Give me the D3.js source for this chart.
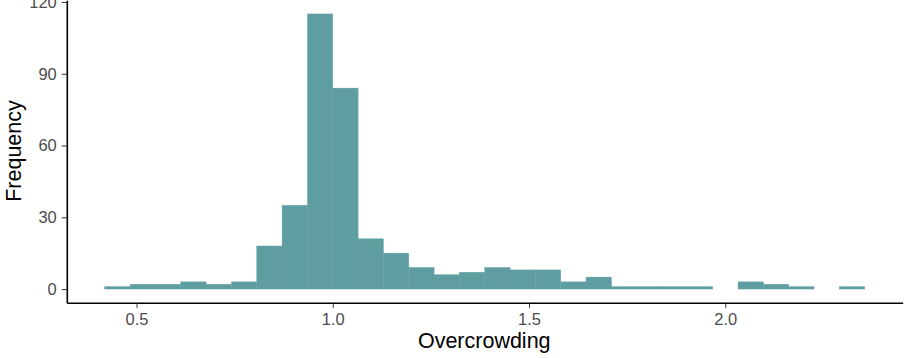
<!DOCTYPE html>
<style>
body { margin: 0; background: #fff; }
svg { font-family: "Liberation Sans", Arial, sans-serif; }
.axis .tick line { stroke: #333; }
.axis .tick text { fill: #4d4d4d; font-size: 16.5px; }
.axis .domain { stroke: #000; stroke-width: 1.6px; }
</style>
<svg width="904" height="358"></svg>
<script src="https://d3js.org/d3.v7.min.js"></script>
<script>

// histogram of Overcrowding, 30 bins
var binStart = 0.4191,
    binWidth = 0.06454;
var counts = [1, 2, 2, 3, 2, 3, 18, 35, 115, 84,
              21, 15, 9, 6, 7, 9, 8, 8, 3, 5,
              1, 1, 1, 1, 0, 3, 2, 1, 0, 1];
var xTicks = [0.5, 1.0, 1.5, 2.0];
var yTicks = [0, 30, 60, 90, 120];

var svg = d3.select("svg"),
    margin = {top: 0.2, right: 1.3, bottom: 55.2, left: 66.8},
    width = +svg.attr("width") - margin.left - margin.right,
    height = +svg.attr("height") - margin.top - margin.bottom,
    g = svg.append("g").attr("transform", "translate(" + margin.left + "," + margin.top + ")");

var bins = counts.map(function(c, i) {
  return {x0: binStart + i * binWidth, x1: binStart + (i + 1) * binWidth, n: c};
});

// ggplot style 5% expansion
var xmin = binStart, xmax = binStart + counts.length * binWidth,
    xpad = (xmax - xmin) * 0.05,
    ymax = d3.max(counts), ypad = ymax * 0.05;

var x = d3.scaleLinear().domain([xmin - xpad, xmax + xpad]).range([0, width]);
var y = d3.scaleLinear().domain([-ypad, ymax + ypad]).range([height, 0]);

g.append("g")
  .selectAll("rect")
  .data(bins.filter(function(d) { return d.n > 0; }))
  .enter().append("rect")
    .attr("x", function(d) { return x(d.x0); })
    .attr("width", function(d) { return x(d.x1) - x(d.x0); })
    .attr("y", function(d) { return y(d.n); })
    .attr("height", function(d) { return y(0) - y(d.n); })
    .attr("fill", "#5f9ea0")
    .attr("stroke", "#5f9ea0")
    .attr("stroke-width", 0.4);

g.append("g")
    .attr("class", "axis")
    .attr("transform", "translate(0," + height + ")")
    .call(d3.axisBottom(x).tickValues(xTicks).tickFormat(d3.format(".1f"))
      .tickSize(5).tickSizeOuter(0).tickPadding(5));

g.append("g")
    .attr("class", "axis")
    .call(d3.axisLeft(y).tickValues(yTicks).tickSize(5).tickSizeOuter(0).tickPadding(5));

svg.append("text")
    .attr("x", margin.left + width / 2 - 0.5)
    .attr("y", 348)
    .attr("text-anchor", "middle")
    .attr("font-size", 21.5)
    .attr("fill", "#000")
    .text("Overcrowding");

svg.append("text")
    .attr("transform", "translate(20.5," + 151 + ") rotate(-90)")
    .attr("text-anchor", "middle")
    .attr("font-size", 21.5)
    .attr("fill", "#000")
    .text("Frequency");

</script>
